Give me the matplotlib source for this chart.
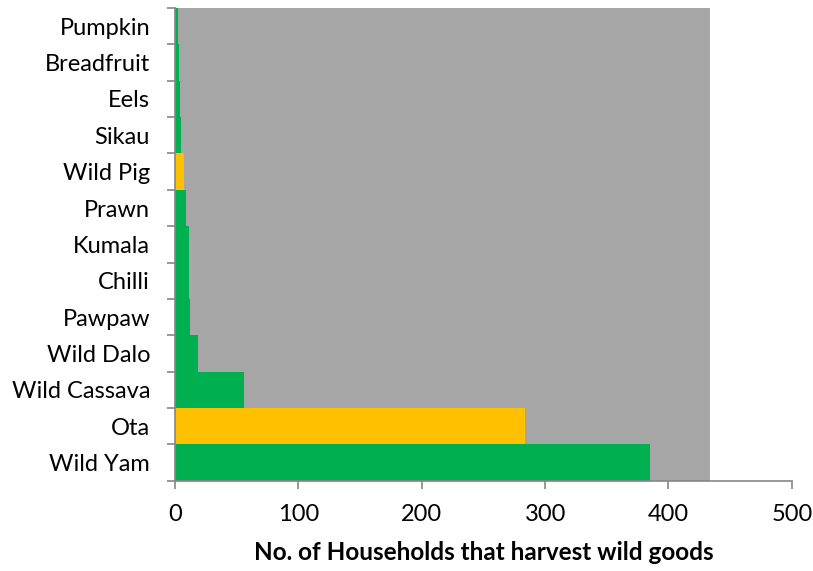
import matplotlib.pyplot as plt
import numpy as np

plt.rcParams['font.family'] = ['Lato', 'DejaVu Sans']

crops = ["Wild Yam", "Ota", "Wild Cassava", "Wild Dalo", "Pawpaw", "Chilli",
         "Kumala", "Prawn", "Wild Pig", "Sikau", "Eels", "Breadfruit", "Pumpkin"]
households = [385, 284, 56, 19, 12, 11, 11, 9, 7, 5, 4, 3, 2]
highlight = ["Ota", "Wild Pig"]
total_households = 434

green = "#00B050"
yellow = "#FFC000"
grey = "#A6A6A6"
axis_col = "#868686"

fig = plt.figure(figsize=(8.13, 5.71), dpi=100)
ax = fig.add_axes([0.2153, 0.158, 0.7587, 0.828])

y = np.arange(len(crops))
ax.barh(y, [total_households] * len(crops), height=1, color=grey, zorder=1)
colors = [yellow if c in highlight else green for c in crops]
ax.barh(y, households, height=1, color=colors, zorder=2)

ax.set_xlim(0, 500)
ax.set_ylim(-0.5, len(crops) - 0.5)
ax.set_xticks([0, 100, 200, 300, 400, 500])
ax.set_yticks(y)
ax.set_yticklabels(crops)
ax.set_yticks(np.arange(len(crops) + 1) - 0.5, minor=True)

ax.tick_params(axis='y', which='major', length=0, pad=18, labelsize=17)
ax.tick_params(axis='y', which='minor', length=6, width=1.2, color=axis_col)
ax.tick_params(axis='x', length=6, width=1.2, color=axis_col, labelsize=17, pad=11)

for s in ['top', 'right']:
    ax.spines[s].set_visible(False)
for s in ['left', 'bottom']:
    ax.spines[s].set_color(axis_col)
    ax.spines[s].set_linewidth(1.2)

ax.set_xlabel("No. of Households that harvest wild goods", fontsize=17.5,
              fontweight='bold', labelpad=11)

fig.savefig("out.png", dpi=100)
